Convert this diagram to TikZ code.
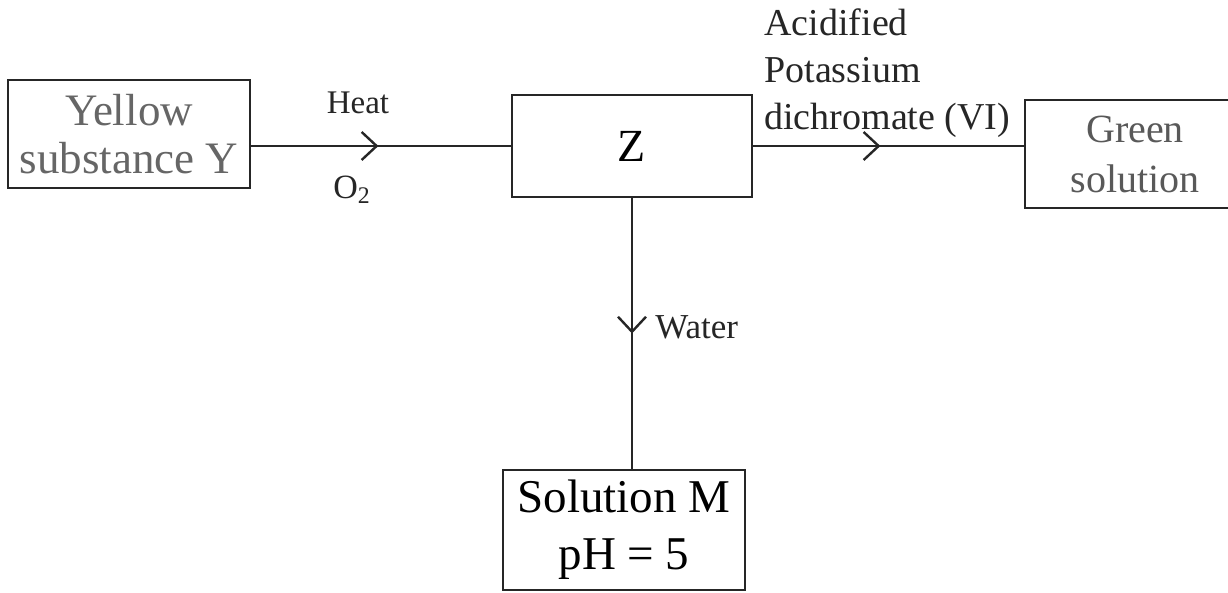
\documentclass[tikz,border=0pt]{standalone}
\usepackage{fontspec}
\setmainfont{Liberation Serif}
\usetikzlibrary{arrows.meta,decorations.markings}
\tikzset{
  box/.style={draw=black!85, line width=1.45pt, rectangle, inner sep=0pt, align=center},
  flow/.style={draw=black!85, line width=1.45pt, postaction={decorate},
    decoration={markings, mark=at position #1 with {\arrow{Straight Barb[length=7.5pt,width=14pt,line width=1.2pt]}}}},
  lbl/.style={inner sep=0pt, text=black!85}
}
\begin{document}
\begin{tikzpicture}[x=0.5pt,y=-0.5pt]
\useasboundingbox (0,0) rectangle (1228,593);
\clip (0,0) rectangle (1228,593);
\fill[white] (0,0) rectangle (1228,593);
\node[box, minimum width=121pt, minimum height=54pt, text=black!60,
  font=\fontsize{22.5}{24}\selectfont] (Y) at (129,134) {Yellow\\substance Y};
\node[box, minimum width=120pt, minimum height=51pt,
  font=\fontsize{23}{24}\selectfont] (Z) at (632,146) {Z};
\node[box, minimum width=110pt, minimum height=54pt, text=black!65,
  font=\fontsize{20}{25}\selectfont] (G) at (1135,154) {Green\\solution};
\node[box, minimum width=121pt, minimum height=60pt,
  font=\fontsize{23.5}{28.5}\selectfont] (M) at (624,530) {Solution M\\pH = 5};
\draw[flow=0.49] (Y.east |- Z.west) -- (Z.west);
\draw[flow=0.47] (Z.east) -- (Z.east -| G.west);
\draw[flow=0.5] (Z.south) -- (Z.south |- M.north);
\node[lbl, font=\fontsize{16.5}{18}\selectfont] (heat) at (358,103) {Heat};
\node[lbl, font=\fontsize{17}{18}\selectfont] (o2) at (352,190) {O\textsubscript{2}};
\node[lbl, anchor=west, align=left, font=\fontsize{19}{23.5}\selectfont] (acid) at (764,73) {Acidified\\Potassium\\dichromate (VI)};
\node[lbl, anchor=west, font=\fontsize{17.5}{20}\selectfont] (water) at (655,327) {Water};
\end{tikzpicture}
\end{document}
